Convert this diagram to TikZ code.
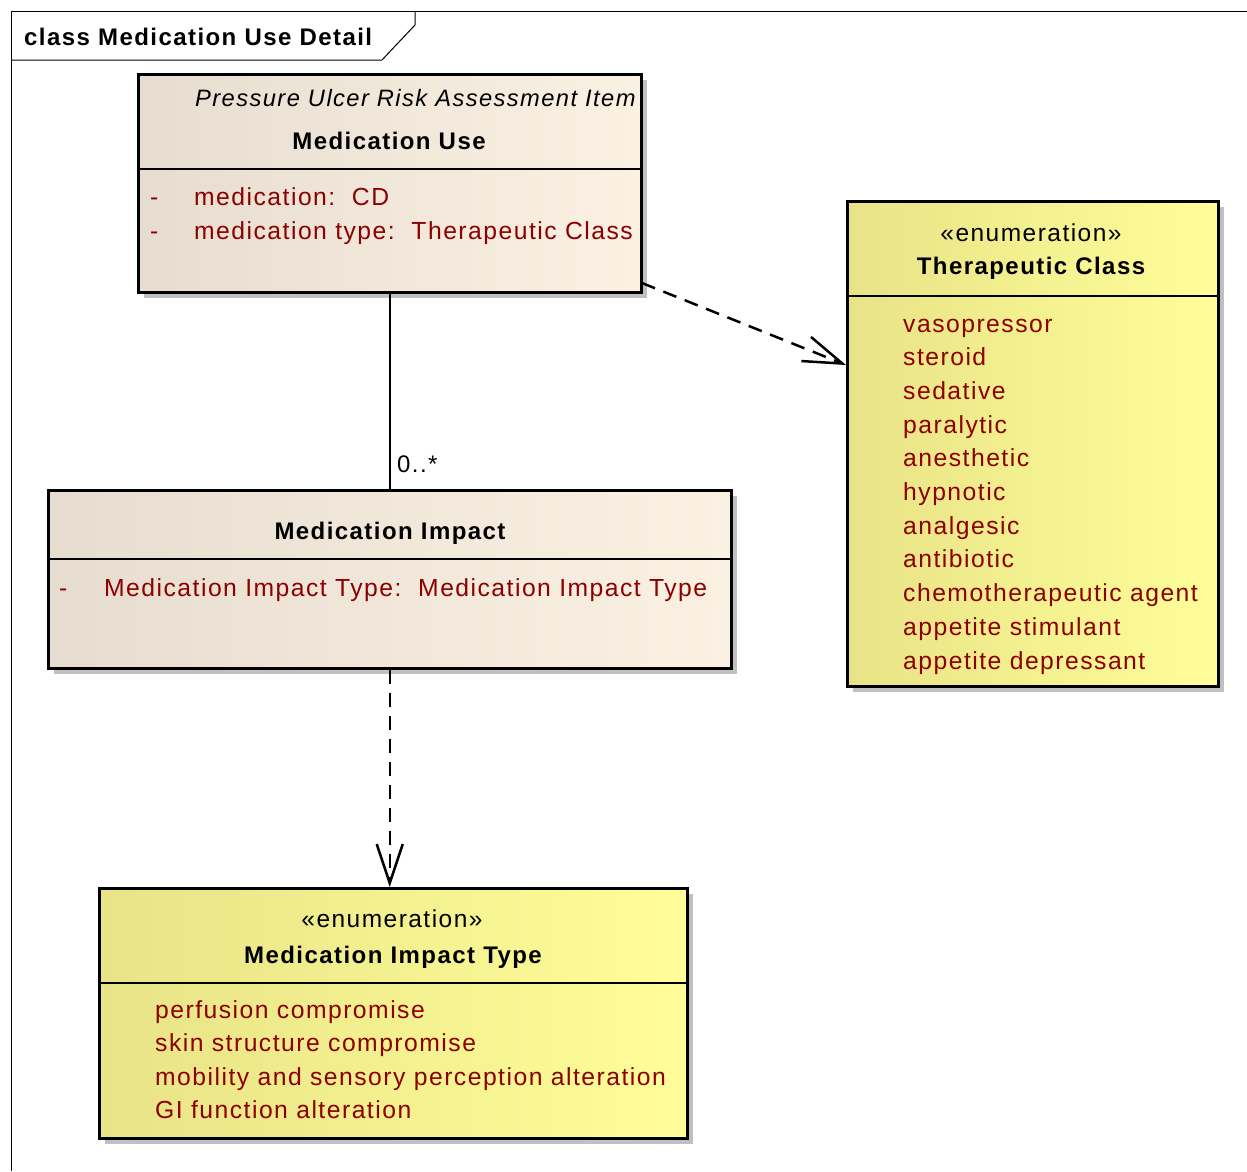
\documentclass[tikz,border=0pt]{standalone}
\usepackage{fontspec}
\setmainfont{Liberation Sans}[LetterSpace=6]
\usetikzlibrary{arrows.meta,calc}
\definecolor{beigeL}{RGB}{230,221,208}
\definecolor{beigeR}{RGB}{251,241,227}
\definecolor{yelL}{RGB}{232,227,135}
\definecolor{yelR}{RGB}{255,254,153}
\definecolor{attr}{RGB}{140,0,0}
\definecolor{shad}{RGB}{192,192,192}
\tikzset{
  classbox/.style={draw=black, line width=2.5pt, left color=beigeL, right color=beigeR, anchor=north west, inner sep=0pt},
  enumbox/.style={draw=black, line width=2.5pt, left color=yelL, right color=yelR, anchor=north west, inner sep=0pt},
  shadowbox/.style={fill=shad, draw=none, anchor=north west, inner sep=0pt},
  txt/.style={inner sep=0pt, font=\fontsize{24}{28}\selectfont},
  bold/.style={txt, font=\fontsize{24}{28}\selectfont\bfseries},
  red/.style={txt, text=attr, font=\fontsize{24.7}{28}\selectfont},
  sep/.style={line width=2.5pt},
  dep/.style={line width=2.5pt, dash pattern=on 14pt off 9pt, -{Straight Barb[length=39pt,width=26pt,line width=2.5pt]}},
  assoc/.style={line width=2.5pt}
}
\begin{document}
\begin{tikzpicture}[x=1pt,y=-1pt]
\useasboundingbox (0,0) rectangle (1247,1171);
% frame
\draw[line width=1pt] (1247,11) -- (11,11) -- (11,1171);
\draw[line width=1pt] (11,60) -- (382,60) -- (415,25) -- (415,11);
\node[bold, anchor=base west] (frametitle) at (24,45) {class Medication Use Detail};

% shadows
\node[shadowbox, minimum width=503pt, minimum height=218pt] at (144,80) {};
\node[shadowbox, minimum width=683pt, minimum height=178pt] at (54,496) {};
\node[shadowbox, minimum width=371pt, minimum height=485pt] at (853,207) {};
\node[shadowbox, minimum width=588pt, minimum height=250pt] at (105,894) {};

% Medication Use
\node[classbox, minimum width=503pt, minimum height=218pt] (mu) at (137,73) {};
\draw[sep] (137,169) -- (640,169);
\node[txt, anchor=base west, font=\fontsize{23.7}{28}\selectfont\itshape] (mus) at (195,106) {Pressure Ulcer Risk Assessment Item};
\node[bold, anchor=base] (mut) at (389,149) {Medication Use};
\node[red, anchor=base west] (mud1) at (150,205) {-};
\node[red, anchor=base west] (mua1) at (194,205) {medication:\ \ CD};
\node[red, anchor=base west] (mud2) at (150,239) {-};
\node[red, anchor=base west] (mua2) at (194,239) {medication type:\ \ Therapeutic Class};

% Medication Impact
\node[classbox, minimum width=683pt, minimum height=178pt] (mi) at (47,489) {};
\draw[sep] (47,559) -- (730,559);
\node[bold, anchor=base] (mit) at (390,539) {Medication Impact};
\node[red, anchor=base west] (mid1) at (59,596) {-};
\node[red, anchor=base west] (mia1) at (104,596) {Medication Impact Type:\ \ Medication Impact Type};

% Therapeutic Class
\node[enumbox, minimum width=371pt, minimum height=485pt] (tc) at (846,200) {};
\draw[sep] (846,296) -- (1217,296);
\node[txt, anchor=base, font=\fontsize{24.5}{28}\selectfont] (tcs) at (1031,241) {«enumeration»};
\node[bold, anchor=base] (tct) at (1031,274) {Therapeutic Class};
\foreach \t [count=\i from 0] in {vasopressor,steroid,sedative,paralytic,anesthetic,hypnotic,analgesic,antibiotic,chemotherapeutic agent,appetite stimulant,appetite depressant}
  \node[red, anchor=base west] (tci\i) at (903,332+33.7*\i) {\t};

% Medication Impact Type
\node[enumbox, minimum width=588pt, minimum height=250pt] (mt) at (98,887) {};
\draw[sep] (98,983) -- (686,983);
\node[txt, anchor=base, font=\fontsize{24.5}{28}\selectfont] (mts) at (392,927) {«enumeration»};
\node[bold, anchor=base] (mtt) at (393,963) {Medication Impact Type};
\foreach \t [count=\i from 0] in {perfusion compromise,skin structure compromise,mobility and sensory perception alteration,GI function alteration}
  \node[red, anchor=base west] (mti\i) at (155,1018+33.6*\i) {\t};

% connectors
\draw[assoc] (mu.south) -- (mi.north);
\node[txt, anchor=base west] (mult) at (397,472) {0..*};
\coordinate (d1s) at (642,283);
\coordinate (d1e) at (tc.west |- 0,365);
\draw[dep] (d1s) -- (d1e);
\draw[dep] (mi.south) -- (mt.north -| mi.south);
\end{tikzpicture}
\end{document}
